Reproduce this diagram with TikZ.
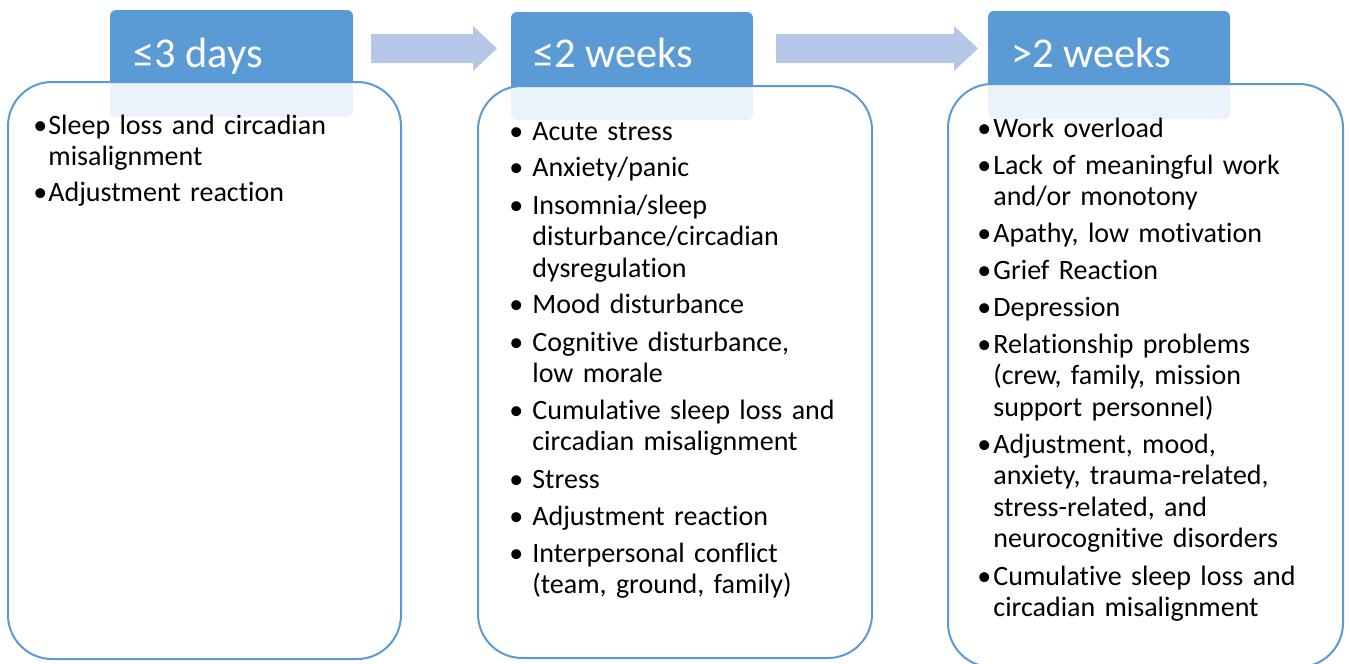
\documentclass[tikz,border=0pt]{standalone}
\usepackage{fontspec}
\setmainfont{Carlito}[Ligatures=NoCommon]
\definecolor{hdr}{HTML}{5B9BD5}
\definecolor{arr}{HTML}{B4C7E7}
\tikzset{
  hdrbox/.style={fill=hdr, draw=none, rounded corners=3pt, inner sep=0pt},
  hdrtext/.style={anchor=base west, inner sep=0pt, text=white, font=\fontsize{21.2}{25}\selectfont},
  panel/.style={draw=hdr, line width=1pt, fill=white, fill opacity=0.88, rounded corners=22pt, inner sep=0pt},
  itemtext/.style={anchor=base west, inner sep=0pt, text width=190pt, align=left, font=\fontsize{14}{15.75}\selectfont},
  blockarrow/.style={fill=arr, draw=none}
}
\newcommand{\bA}{\llap{\makebox[7.5pt][l]{•}}}
\newcommand{\bB}{\llap{\makebox[11.5pt][l]{•}}}
\newcommand{\bC}{\llap{\makebox[8pt][l]{•}}}
\begin{document}
\begin{tikzpicture}[x=0.5pt,y=-0.5pt]
\useasboundingbox (0,0) rectangle (1350,664);
% block arrows
\path[blockarrow] (371,34) -- (473,34) -- (473,26) -- (497,48.5) -- (473,71) -- (473,63) -- (371,63) -- cycle;
\path[blockarrow] (776,34) -- (954,34) -- (954,26) -- (978,48.5) -- (954,71) -- (954,63) -- (776,63) -- cycle;
% headers
\node[hdrbox, minimum width=121.5pt, minimum height=53.5pt] (h1) at (231.5,63.5) {};
\node[hdrbox, minimum width=121pt, minimum height=54pt] (h2) at (632,66) {};
\node[hdrbox, minimum width=121pt, minimum height=54pt] (h3) at (1109,65) {};
% panels
\node[panel, minimum width=196.5pt, minimum height=288.5pt] (p1) at (204.5,370.5) {};
\node[panel, minimum width=197pt, minimum height=286pt] (p2) at (675,372) {};
\node[panel, minimum width=197.5pt, minimum height=291.5pt] (p3) at (1145.5,375.5) {};
% header texts
\node[hdrtext] (t1) at (133,67) {≤3 days};
\node[hdrtext] (t2) at (533,68) {≤2 weeks};
\node[hdrtext] (t3) at (1011,68) {>2 weeks};
% column 1
\node[itemtext] (a1) at (48,134) {\bA Sleep loss and circadian\\misalignment};
\node[itemtext] (a2) at (48,201) {\bA Adjustment reaction};
% column 2
\node[itemtext] (b1) at (532,140) {\bB Acute stress};
\node[itemtext] (b2) at (532,176) {\bB Anxiety/panic};
\node[itemtext] (b3) at (532,214) {\bB Insomnia/sleep\\disturbance/circadian\\dysregulation};
\node[itemtext] (b4) at (532,313) {\bB Mood disturbance};
\node[itemtext] (b5) at (532,351) {\bB Cognitive disturbance,\\low morale};
\node[itemtext] (b6) at (532,419) {\bB Cumulative sleep loss and\\circadian misalignment};
\node[itemtext] (b7) at (532,488) {\bB Stress};
\node[itemtext] (b8) at (532,525) {\bB Adjustment reaction};
\node[itemtext] (b9) at (532,562) {\bB Interpersonal conflict\\(team, ground, family)};
% column 3
\node[itemtext] (c1) at (993,137) {\bC Work overload};
\node[itemtext] (c2) at (993,174) {\bC Lack of meaningful work\\and/or monotony};
\node[itemtext] (c3) at (993,242) {\bC Apathy, low motivation};
\node[itemtext] (c4) at (993,279) {\bC Grief Reaction};
\node[itemtext] (c5) at (993,316) {\bC Depression};
\node[itemtext] (c6) at (993,353) {\bC Relationship problems\\(crew, family, mission\\support personnel)};
\node[itemtext] (c7) at (993,453) {\bC Adjustment, mood,\\anxiety, trauma-related,\\stress-related, and\\neurocognitive disorders};
\node[itemtext] (c8) at (993,585) {\bC Cumulative sleep loss and\\circadian misalignment};
\end{tikzpicture}
\end{document}
